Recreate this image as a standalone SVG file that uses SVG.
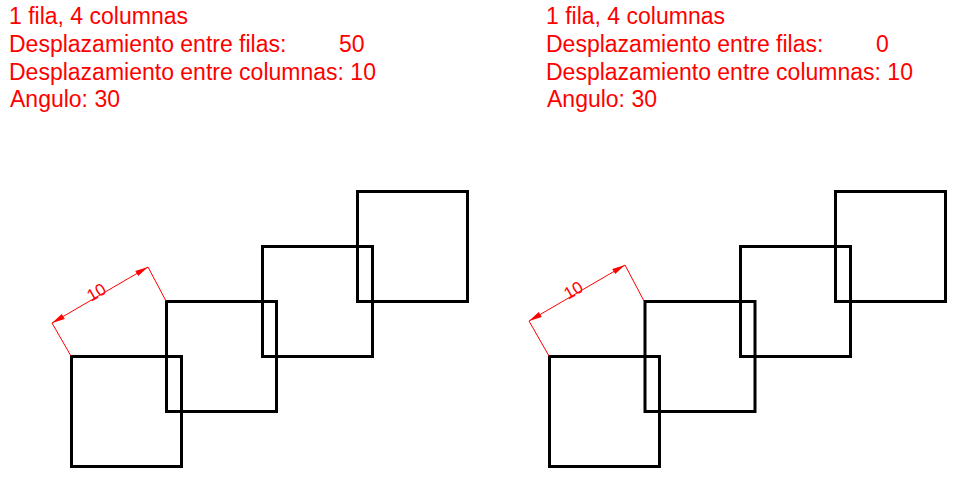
<svg xmlns="http://www.w3.org/2000/svg" width="958" height="494" viewBox="0 0 958 494">
<style>
.t{font-family:"Liberation Sans",Arial,sans-serif;font-size:23px;fill:#f00}
.d{font-family:"Liberation Sans",Arial,sans-serif;font-size:17px;fill:#f00}
.s{fill:none;stroke:#000;stroke-width:3}
.l{fill:none;stroke:#f00;stroke-width:1}
.a{fill:#f00;stroke:none}
</style>
<defs>
<rect id="sq" class="s" width="110" height="110"/>
<polygon id="ah" class="a" points="0,0 13,-3 13,3"/>
</defs>
<rect width="958" height="494" fill="#fff"/>
<g id="labels-left">
<text class="t" x="9" y="24">1 fila, 4 columnas</text>
<text class="t" x="9" y="52">Desplazamiento entre filas:</text>
<text class="t" x="339" y="52">50</text>
<text class="t" x="9" y="80">Desplazamiento entre columnas: 10</text>
<text class="t" x="10" y="107">Angulo: 30</text>
</g>
<g id="labels-right">
<text class="t" x="546" y="24">1 fila, 4 columnas</text>
<text class="t" x="546" y="52">Desplazamiento entre filas:</text>
<text class="t" x="876" y="52">0</text>
<text class="t" x="546" y="80">Desplazamiento entre columnas: 10</text>
<text class="t" x="547" y="107">Angulo: 30</text>
</g>
<g id="array-left">
<use href="#sq" x="71.5" y="356.5"/>
<use href="#sq" x="166.5" y="301.5"/>
<use href="#sq" x="262.5" y="246.5"/>
<use href="#sq" x="357.5" y="191.5"/>
</g>
<g id="array-right">
<use href="#sq" x="549.5" y="356.5"/>
<use href="#sq" x="645" y="301.5"/>
<use href="#sq" x="740.5" y="246.5"/>
<use href="#sq" x="835.5" y="191.5"/>
</g>
<g id="connectors">
<path class="l" d="M71 356L52 323L148 267L166 301"/>
<use href="#ah" transform="translate(52 323) rotate(-30)"/>
<use href="#ah" transform="translate(148 267) rotate(150)"/>
<path class="l" d="M549 356L529 321L625 265L644 301"/>
<use href="#ah" transform="translate(529 321) rotate(-30)"/>
<use href="#ah" transform="translate(625 265) rotate(150)"/>
</g>
<g id="dim-left"><text class="d" transform="translate(91 302) rotate(-30)">10</text></g>
<g id="dim-right"><text class="d" transform="translate(568 300) rotate(-30)">10</text></g>
</svg>
